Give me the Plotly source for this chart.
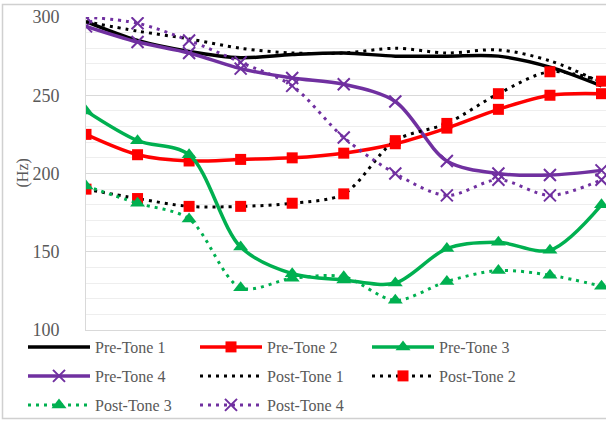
import plotly.graph_objects as go

points = list(range(1, 12))
pre_tone_1 = [297, 285, 278, 274, 276, 277, 275, 275, 275, 268, 256]
pre_tone_2 = [225, 212, 208, 209, 210, 213, 219, 229, 241, 250, 251]
pre_tone_3 = [240, 221, 212, 153, 136, 132, 130, 152, 156, 151, 180]
pre_tone_4 = [294, 284, 277, 267, 261, 257, 246, 208, 200, 199, 202]
post_tone_1 = [297, 291, 286, 280, 277, 277, 280, 277, 279, 272, 258]
post_tone_2 = [190, 184, 179, 179, 181, 187, 221, 232, 251, 265, 259]
post_tone_3 = [192, 181, 171, 127, 133, 134, 119, 131, 138, 135, 128]
post_tone_4 = [300, 296, 285, 271, 256, 223, 200, 186, 196, 186, 196]
y_ticks = [100, 150, 200, 250, 300]

BLACK = "#000000"
RED = "#FF0000"
GREEN = "#00B050"
PURPLE = "#7030A0"
DOT = "3px,5px"
FONT = "Liberation Serif, Times New Roman, serif"
GREY = "#595959"

series = [
    ("Pre-Tone 1", pre_tone_1, BLACK, "solid", None, None, "legend"),
    ("Pre-Tone 2", pre_tone_2, RED, "solid", "square", RED, "legend"),
    ("Pre-Tone 3", pre_tone_3, GREEN, "solid", "triangle-up", GREEN, "legend"),
    ("Pre-Tone 4", pre_tone_4, PURPLE, "solid", "x-thin", PURPLE, "legend2"),
    ("Post-Tone 1", post_tone_1, BLACK, DOT, None, None, "legend2"),
    ("Post-Tone 2", post_tone_2, BLACK, DOT, "square", RED, "legend2"),
    ("Post-Tone 3", post_tone_3, GREEN, DOT, "triangle-up", GREEN, "legend3"),
    ("Post-Tone 4", post_tone_4, PURPLE, DOT, "x-thin", PURPLE, "legend3"),
]

fig = go.Figure()
for name, vals, color, dash, symbol, mcolor, leg in series:
    width = 3.5 if dash == "solid" else 3
    kw = dict(x=points, y=vals, name=name, legend=leg,
              line=dict(color=color, width=width, dash=dash, shape="spline", smoothing=0.9))
    if symbol is None:
        kw["mode"] = "lines"
    else:
        kw["mode"] = "lines+markers"
        if symbol == "x-thin":
            kw["marker"] = dict(symbol=symbol, size=12, color=mcolor,
                                line=dict(color=mcolor, width=2))
        elif symbol == "square":
            kw["marker"] = dict(symbol=symbol, size=11, color=mcolor, line=dict(width=0))
        else:
            kw["marker"] = dict(symbol=symbol, size=13, color=mcolor, line=dict(width=0))
    fig.add_trace(go.Scatter(**kw))

PW = 520.0
PH = 313.0
step = 51.55
legend_common = dict(orientation="h", entrywidth=95, entrywidthmode="pixels",
                     itemwidth=62, font=dict(family=FONT, size=16, color=GREY),
                     bgcolor="rgba(0,0,0,0)", xanchor="left", yanchor="middle",
                     x=(23 - 86) / PW, itemclick=False, traceorder="normal")
rows_y = [347, 376, 405]

fig.update_layout(
    width=606, height=421,
    margin=dict(l=86, r=0, t=17, b=91, autoexpand=False),
    paper_bgcolor="white", plot_bgcolor="white",
    showlegend=True,
    legend=dict(**legend_common, y=(330 - rows_y[0]) / PH),
    legend2=dict(**legend_common, y=(330 - rows_y[1]) / PH),
    legend3=dict(**legend_common, y=(330 - rows_y[2]) / PH),
    xaxis=dict(range=[1, 1 + PW / step], showgrid=False, zeroline=False,
               showticklabels=False, ticks="", showline=True, linecolor="#d9d9d9",
               linewidth=1),
    yaxis=dict(range=[100, 300], tickvals=y_ticks, showgrid=True, gridcolor="#d9d9d9",
               gridwidth=1, zeroline=False, showline=True, linecolor="#d9d9d9",
               linewidth=1, ticks="", ticklabelstandoff=22,
               tickfont=dict(family=FONT, size=18, color=GREY),
               minor=dict(dtick=10, showgrid=True, gridcolor="#eeeeee", gridwidth=1)),
    annotations=[dict(text="(Hz)", textangle=-90, xref="paper", yref="paper",
                      x=(22 - 86) / PW, y=0.5, xanchor="center", yanchor="middle",
                      showarrow=False,
                      font=dict(family=FONT, size=16, color=GREY))],
    shapes=[dict(type="rect", xref="paper", yref="paper",
                 x0=(2.5 - 86) / PW, x1=(620 - 86) / PW,
                 y0=(330 - 418.5) / PH, y1=(330 - 4.5) / PH,
                 line=dict(color="#d0d0d0", width=1.5), layer="above")],
)

fig.write_html("out.html", config={"displayModeBar": False},
               post_script="document.body.style.margin='0';")
